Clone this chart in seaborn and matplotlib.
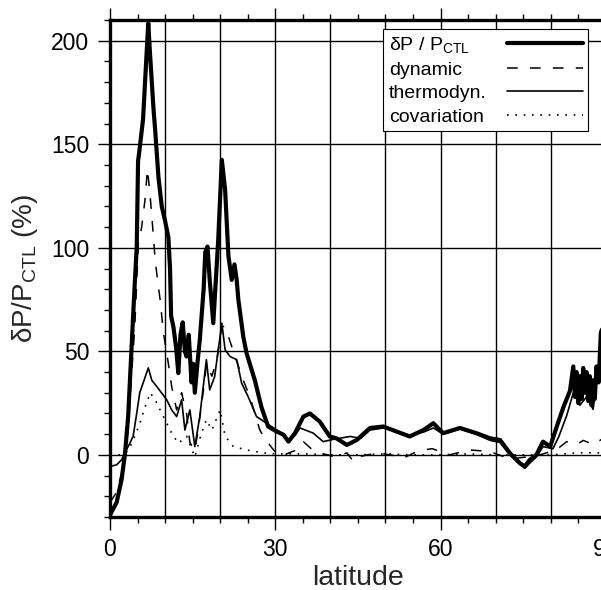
import numpy as np
import pandas as pd
import matplotlib
matplotlib.use("Agg")
import matplotlib.pyplot as plt
import seaborn as sns

# values
lat_total = [0, 1.2, 2.1, 2.7, 3.3, 3.9, 4.5, 4.85, 5.1, 5.3, 6.0, 6.65, 6.95, 7.26, 7.5,
             7.9, 8.2, 8.8, 9.4, 10.0, 10.6, 10.9, 11.1, 11.5, 12.0, 12.4, 12.8, 13.2, 13.6,
             13.9, 14.3, 14.8, 15.1, 15.4, 15.9, 16.3, 17.0, 17.3, 17.7, 18.1, 18.75, 19.65,
             20.3, 20.9, 21.5, 22.1, 22.6, 23.0, 23.3, 24.2, 24.8, 26.3, 27.5, 28.7, 30.25,
             31.5, 32.4, 33.6, 35.1, 36.3, 38.1, 39.9, 41.1, 43.0, 44.8, 47.2, 49.6, 52.0,
             54.4, 56.9, 58.7, 59.9, 60.5, 63.5, 66.5, 69.0, 70.8, 72.6, 74.4, 75.3, 76.2,
             77.4, 78.6, 79.9, 81.1, 82.3, 83.5, 84.1, 84.4, 84.7, 85.0, 85.3, 85.6, 85.9,
             86.2, 86.5, 86.8, 87.1, 87.4, 87.7, 88.0, 88.3, 88.7, 89.1, 89.5]
total = [-29, -23, -12, 0, 18.5, 51, 83, 100, 142, 146, 162, 194, 208.5, 194, 184,
         167, 157, 134, 120, 113, 105, 90, 67, 62, 52, 39.5, 58, 64, 50,
         47.5, 58, 35, 44, 30, 45, 55.5, 80, 98, 100.6, 84.5, 63.6, 104,
         142.5, 128, 96, 84.5, 92, 84.5, 75, 57, 49, 36, 23, 13.7, 11.3,
         9.7, 6.4, 10.6, 18.5, 20, 16, 8.9, 8, 4.8, 7.2, 13, 13.7, 11.3,
         8.9, 12, 15.3, 12, 10.5, 13, 10.5, 8, 7.2, 0.8, -4, -5.6, -2.4,
         0, 6.4, 4, 13.7, 23, 31, 42.7, 28, 40, 25, 38, 27, 42,
         30, 40, 26, 38, 24, 36, 27, 42.7, 35, 59, 62]

lat_thermo = [0, 1.2, 2.1, 2.7, 3.6, 4.2, 4.85, 5.4, 6.0, 6.95, 7.6, 8.5, 9.4, 10.3, 11.2,
              12.1, 13.0, 13.6, 14.5, 15.4, 16.3, 17.5, 18.1, 19.0, 20.3, 20.9, 21.8, 23.0,
              23.9, 25.1, 26.6, 28.4, 30.25, 31.5, 32.4, 33.6, 34.5, 36.9, 38.7, 40.5, 43.6,
              45.5, 47.2, 49.6, 52.0, 54.4, 56.9, 58.7, 60.5, 63.5, 66.5, 69.0, 70.8, 72.6,
              74.4, 75.3, 76.2, 77.4, 78.6, 80.4, 81.5, 82.9, 84.1, 85.3, 86.5, 87.7, 88.3, 89.5]
thermo = [-5.6, -4.8, -2.4, 1, 5.6, 9, 20, 30, 34.6, 42, 36, 33, 29.8, 26.6, 21.7,
          18.5, 26.6, 12, 21.7, 4, 18.5, 46, 31.4, 37.8, 63.6, 50.7, 47.5, 46,
          34.6, 28, 18.5, 15.3, 12, 10, 7, 9.5, 13, 10.5, 6.4, 7.5, 8.9,
          8, 12, 13, 11.5, 9.5, 11, 13, 10, 12.5, 10, 7, 6, 0,
          -4.5, -6.5, -4, -1, 4, 3, 9, 19, 30, 24, 28, 22, 35, 50]

lat_dyn = [0, 1.2, 2.1, 2.7, 3.3, 3.9, 4.5, 5.15, 5.75, 6.35, 6.8, 7.26, 7.9, 8.2, 8.8,
           9.1, 9.7, 10.6, 11.2, 12.1, 13.0, 13.9, 14.5, 15.4, 16.0, 17.2, 17.5, 18.5,
           19.4, 20.3, 20.9, 22.7, 24.2, 25.4, 27.2, 28.1, 29.5, 30.9, 32.5, 33.9, 35.1,
           36.5, 38.0, 41.0, 43.0, 44.2, 45.0, 48.5, 52.0, 53.2, 56.0, 58.5, 61.6, 65.3,
           69.0, 72.6, 75.6, 78.0, 81.0, 82.9, 84.7, 85.9, 87.8, 89.5]
dynamic = [-23, -18, -9, -0.5, 12, 38, 62, 102, 110, 123, 138, 126, 105, 94, 81,
           75, 59, 44, 33, 21.7, 30, 20, 6, 2, 12, 36, 44, 38,
           46, 62, 62, 47.5, 36, 28, 12, 8, 3, -1, 1, 2.4, 6.4,
           3, 1, -1, 1, -3.2, -1, 1, -0.5, -1.6, 2, 3, 0, 2.4,
           1.6, -2, -1, 0, 2.4, 6.4, 5, 7, 5, 8]

lat_cov = [0, 2, 3.3, 4.2, 5.4, 6.35, 7.3, 8.2, 9.1, 10.3, 11.2, 12.4, 13.9, 15.4, 16.6,
           17.5, 18.5, 20.0, 20.9, 22.4, 24.8, 27.7, 30, 35, 40, 45, 50, 55, 60, 65, 70,
           75, 80, 85, 89.5]
covariation = [0, 0, 2, 7, 15, 23, 30, 26.6, 21.7, 15.3, 10.5, 5.6, 9, -1, 10.5,
               17, 12, 21.7, 9, 4, 2.4, 1, 0.5, 0.5, 0, 0, 0.5, 0, 0, 0.5, 0,
               0, 0, 1, 1]

grid_x = [0, 10, 20, 30, 40, 50, 60, 70, 80, 90]
grid_y = [0, 50, 100, 150, 200]

sns.set_theme(style="white")
plt.rcParams['font.family'] = ['Liberation Sans', 'DejaVu Sans']
plt.rcParams['mathtext.default'] = 'regular'

fig = plt.figure(figsize=(6.01, 5.90), dpi=100)
ax = fig.add_axes([0.183, 0.1237, 0.825, 0.8424])

for g in grid_x:
    ax.axvline(g, color='black', lw=1.0, zorder=1)
for g in grid_y:
    ax.axhline(g, color='black', lw=1.0, zorder=1)

sns.lineplot(x=lat_total, y=total, color='black', lw=3.0, estimator=None,
             label=r'δP / P$_{CTL}$', ax=ax, zorder=3)
sns.lineplot(x=lat_dyn, y=dynamic, color='black', lw=1.1, estimator=None,
             linestyle=(0, (7, 8)), label='dynamic', ax=ax, zorder=2)
sns.lineplot(x=lat_thermo, y=thermo, color='black', lw=1.2, estimator=None,
             label='thermodyn.', ax=ax, zorder=2)
sns.lineplot(x=lat_cov, y=covariation, color='black', lw=1.2, estimator=None,
             linestyle=(0, (1, 4)), label='covariation', ax=ax, zorder=2)

ax.set_xlim(0, 90)
ax.set_ylim(-30, 210)
ax.set_xticks([0, 30, 60, 90])
ax.set_xticks(np.arange(0, 91, 5), minor=True)
ax.set_yticks([0, 50, 100, 150, 200])
ax.set_yticks(np.arange(-30, 211, 10), minor=True)
ax.tick_params(axis='both', which='major', direction='out', length=9, width=1.0,
               labelsize=16.5, colors='black', pad=6)
ax.tick_params(axis='both', which='minor', direction='out', length=4, width=1.0,
               colors='black')
ax.tick_params(axis='x', which='both', top=True, bottom=True)
ax.tick_params(axis='y', which='both', left=True, right=False)

for side in ['left', 'bottom', 'top', 'right']:
    ax.spines[side].set_color('black')
    ax.spines[side].set_linewidth(2.4)

ax.set_xlabel('latitude', fontsize=20.5, labelpad=3)
ax.set_ylabel(r'δP/P$_{CTL}$ (%)', fontsize=20)
ax.yaxis.set_label_coords(-0.142, 0.5)

leg = ax.legend(loc='upper left', bbox_to_anchor=(0.551, 0.981), markerfirst=False,
                fontsize=14, handlelength=3.9, handletextpad=0.3, labelspacing=0.3,
                borderpad=0.3, borderaxespad=0, frameon=True, fancybox=False,
                edgecolor='black', framealpha=1)
leg.get_frame().set_linewidth(0.8)
for t in leg.get_texts():
    t.set_color('black')

# left-align legend texts while keeping the line samples in one column
fig.canvas.draw()
renderer = fig.canvas.get_renderer()
rows = leg._legend_handle_box.get_children()[0].get_children()
row_w = max(r.get_bbox(renderer).width for r in rows) + 14
for r in rows:
    r.width = row_w
    r.mode = 'expand'

fig.savefig('out.png', dpi=100)
